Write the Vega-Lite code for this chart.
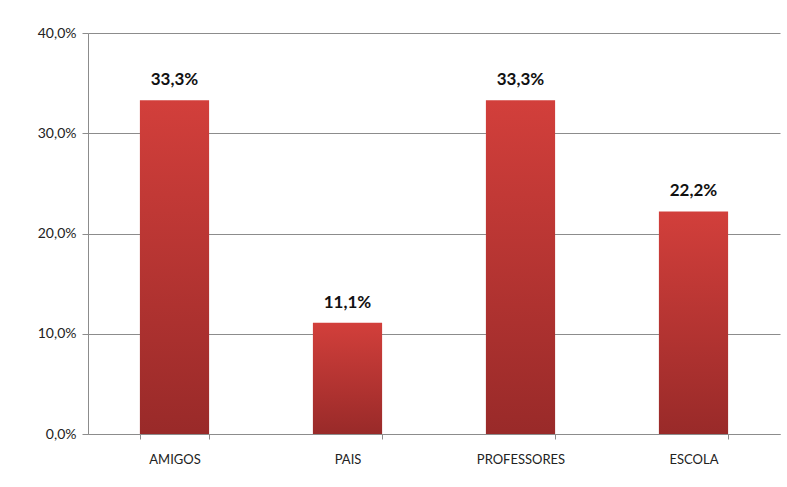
{
  "$schema": "https://vega.github.io/schema/vega-lite/v6.json",
  "autosize": "none",
  "width": 692,
  "height": 401,
  "padding": {"left": 88, "top": 33, "right": 7, "bottom": 53},
  "background": "white",
  "config": {
    "locale": {"number": {"decimal": ",", "thousands": ".", "grouping": [3], "currency": ["R$", ""]}},
    "view": {"stroke": null},
    "font": "Lato"
  },
  "data": {
    "values": [
      {"categoria": "AMIGOS", "valor": 0.333},
      {"categoria": "PAIS", "valor": 0.111},
      {"categoria": "PROFESSORES", "valor": 0.333},
      {"categoria": "ESCOLA", "valor": 0.222}
    ]
  },
  "encoding": {
    "x": {
      "field": "categoria",
      "type": "nominal",
      "sort": null,
      "scale": {"paddingInner": 0.6, "paddingOuter": 0.3, "align": 0.5},
      "axis": {
        "title": null,
        "labelAngle": 0,
        "labelFont": "Lato",
        "labelFontSize": 13,
        "labelColor": "#222222",
        "labelPadding": 14,
        "domainColor": "#8c8c8c",
        "tickColor": "#8c8c8c",
        "tickSize": 5,
        "tickBand": "extent",
        "grid": false
      }
    },
    "y": {
      "field": "valor",
      "type": "quantitative",
      "scale": {"domain": [0, 0.4], "nice": false},
      "axis": {
        "title": null,
        "format": ".1%",
        "values": [0, 0.1, 0.2, 0.3, 0.4],
        "labelOverlap": false,
        "labelFont": "Lato",
        "labelFontSize": 14,
        "labelColor": "#222222",
        "labelPadding": 6,
        "domainColor": "#8c8c8c",
        "tickColor": "#8c8c8c",
        "tickSize": 6,
        "gridColor": "#8c8c8c",
        "gridWidth": 1
      }
    }
  },
  "layer": [
    {
      "mark": {
        "type": "bar",
        "color": {
          "gradient": "linear",
          "x1": 0, "y1": 0, "x2": 0, "y2": 1,
          "stops": [
            {"offset": 0, "color": "#d23f3b"},
            {"offset": 1, "color": "#992a29"}
          ]
        }
      }
    },
    {
      "mark": {
        "type": "text",
        "baseline": "bottom",
        "dy": -11,
        "font": "Lato",
        "fontSize": 17,
        "fontWeight": "bold",
        "color": "#111111"
      },
      "encoding": {
        "text": {"field": "valor", "type": "quantitative", "format": ".1%"}
      }
    }
  ]
}
